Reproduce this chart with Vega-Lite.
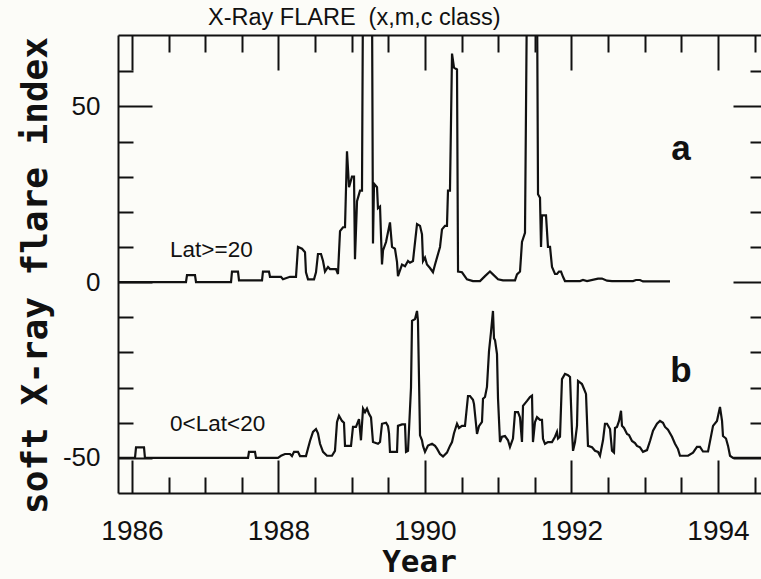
{
  "$schema": "https://vega.github.io/schema/vega-lite/v6.json",
  "width": 643,
  "height": 458,
  "autosize": {"type": "none"},
  "padding": {"left": 118, "top": 35, "right": 0, "bottom": 86},
  "background": "#fcfcf8",
  "title": {
    "text": "X-Ray FLARE \u00a0(x,m,c class)",
    "anchor": "start",
    "frame": "group",
    "dx": 90,
    "offset": -14,
    "baseline": "alphabetic",
    "font": "Liberation Sans",
    "fontSize": 23.5,
    "fontWeight": "normal",
    "color": "#111"
  },
  "config": {
    "view": {"stroke": null},
    "axis": {
      "domainColor": "#111",
      "domainWidth": 2,
      "tickColor": "#111",
      "tickWidth": 2,
      "grid": false,
      "labelColor": "#111",
      "titleColor": "#111",
      "labelFont": "Liberation Sans"
    }
  },
  "datasets": {
    "flare": [
      {"series": "Lat>=20", "year": 1985.809, "index": 0},
      {"series": "Lat>=20", "year": 1986.737, "index": 0},
      {"series": "Lat>=20", "year": 1986.751, "index": 2},
      {"series": "Lat>=20", "year": 1986.860, "index": 2},
      {"series": "Lat>=20", "year": 1986.874, "index": 0},
      {"series": "Lat>=20", "year": 1987.352, "index": 0},
      {"series": "Lat>=20", "year": 1987.365, "index": 3},
      {"series": "Lat>=20", "year": 1987.447, "index": 3},
      {"series": "Lat>=20", "year": 1987.461, "index": 0.5},
      {"series": "Lat>=20", "year": 1987.775, "index": 0.5},
      {"series": "Lat>=20", "year": 1987.788, "index": 3},
      {"series": "Lat>=20", "year": 1987.870, "index": 3},
      {"series": "Lat>=20", "year": 1987.884, "index": 1.5},
      {"series": "Lat>=20", "year": 1988.034, "index": 1.5},
      {"series": "Lat>=20", "year": 1988.061, "index": 0.8},
      {"series": "Lat>=20", "year": 1988.157, "index": 1.5},
      {"series": "Lat>=20", "year": 1988.239, "index": 1.5},
      {"series": "Lat>=20", "year": 1988.266, "index": 10},
      {"series": "Lat>=20", "year": 1988.321, "index": 9.5},
      {"series": "Lat>=20", "year": 1988.362, "index": 8.5},
      {"series": "Lat>=20", "year": 1988.375, "index": 2.8},
      {"series": "Lat>=20", "year": 1988.403, "index": 0.8},
      {"series": "Lat>=20", "year": 1988.485, "index": 0.8},
      {"series": "Lat>=20", "year": 1988.512, "index": 2.8},
      {"series": "Lat>=20", "year": 1988.539, "index": 8},
      {"series": "Lat>=20", "year": 1988.580, "index": 8},
      {"series": "Lat>=20", "year": 1988.608, "index": 6},
      {"series": "Lat>=20", "year": 1988.635, "index": 3},
      {"series": "Lat>=20", "year": 1988.676, "index": 4.3},
      {"series": "Lat>=20", "year": 1988.703, "index": 3.7},
      {"series": "Lat>=20", "year": 1988.785, "index": 3.7},
      {"series": "Lat>=20", "year": 1988.812, "index": 2.3},
      {"series": "Lat>=20", "year": 1988.840, "index": 14.5},
      {"series": "Lat>=20", "year": 1988.881, "index": 15.6},
      {"series": "Lat>=20", "year": 1988.908, "index": 15.6},
      {"series": "Lat>=20", "year": 1988.935, "index": 37.2},
      {"series": "Lat>=20", "year": 1988.963, "index": 27},
      {"series": "Lat>=20", "year": 1989.003, "index": 30},
      {"series": "Lat>=20", "year": 1989.031, "index": 30},
      {"series": "Lat>=20", "year": 1989.044, "index": 6.5},
      {"series": "Lat>=20", "year": 1989.072, "index": 23},
      {"series": "Lat>=20", "year": 1989.113, "index": 26},
      {"series": "Lat>=20", "year": 1989.140, "index": 26},
      {"series": "Lat>=20", "year": 1989.154, "index": 85},
      {"series": "Lat>=20", "year": 1989.276, "index": 85},
      {"series": "Lat>=20", "year": 1989.290, "index": 11},
      {"series": "Lat>=20", "year": 1989.304, "index": 28},
      {"series": "Lat>=20", "year": 1989.345, "index": 27},
      {"series": "Lat>=20", "year": 1989.358, "index": 21},
      {"series": "Lat>=20", "year": 1989.386, "index": 21.5},
      {"series": "Lat>=20", "year": 1989.413, "index": 5},
      {"series": "Lat>=20", "year": 1989.427, "index": 9},
      {"series": "Lat>=20", "year": 1989.468, "index": 11.4},
      {"series": "Lat>=20", "year": 1989.522, "index": 17},
      {"series": "Lat>=20", "year": 1989.550, "index": 10},
      {"series": "Lat>=20", "year": 1989.590, "index": 9.5},
      {"series": "Lat>=20", "year": 1989.618, "index": 5.7},
      {"series": "Lat>=20", "year": 1989.631, "index": 1.7},
      {"series": "Lat>=20", "year": 1989.686, "index": 5},
      {"series": "Lat>=20", "year": 1989.727, "index": 4.5},
      {"series": "Lat>=20", "year": 1989.768, "index": 6},
      {"series": "Lat>=20", "year": 1989.795, "index": 5.5},
      {"series": "Lat>=20", "year": 1989.836, "index": 6},
      {"series": "Lat>=20", "year": 1989.891, "index": 16.5},
      {"series": "Lat>=20", "year": 1989.932, "index": 16},
      {"series": "Lat>=20", "year": 1989.959, "index": 13.6},
      {"series": "Lat>=20", "year": 1989.973, "index": 6},
      {"series": "Lat>=20", "year": 1990.000, "index": 7},
      {"series": "Lat>=20", "year": 1990.027, "index": 5},
      {"series": "Lat>=20", "year": 1990.068, "index": 4},
      {"series": "Lat>=20", "year": 1990.109, "index": 2.8},
      {"series": "Lat>=20", "year": 1990.137, "index": 5},
      {"series": "Lat>=20", "year": 1990.178, "index": 8},
      {"series": "Lat>=20", "year": 1990.205, "index": 10},
      {"series": "Lat>=20", "year": 1990.232, "index": 15},
      {"series": "Lat>=20", "year": 1990.273, "index": 16},
      {"series": "Lat>=20", "year": 1990.300, "index": 16},
      {"series": "Lat>=20", "year": 1990.314, "index": 26},
      {"series": "Lat>=20", "year": 1990.341, "index": 26},
      {"series": "Lat>=20", "year": 1990.369, "index": 65},
      {"series": "Lat>=20", "year": 1990.396, "index": 61},
      {"series": "Lat>=20", "year": 1990.437, "index": 60.5},
      {"series": "Lat>=20", "year": 1990.451, "index": 3},
      {"series": "Lat>=20", "year": 1990.505, "index": 2.8},
      {"series": "Lat>=20", "year": 1990.573, "index": 0.8},
      {"series": "Lat>=20", "year": 1990.655, "index": 0.3},
      {"series": "Lat>=20", "year": 1990.751, "index": 0.3},
      {"series": "Lat>=20", "year": 1990.819, "index": 1.7},
      {"series": "Lat>=20", "year": 1990.887, "index": 3},
      {"series": "Lat>=20", "year": 1990.928, "index": 2.2},
      {"series": "Lat>=20", "year": 1990.997, "index": 0.8},
      {"series": "Lat>=20", "year": 1991.065, "index": 0.5},
      {"series": "Lat>=20", "year": 1991.229, "index": 0.5},
      {"series": "Lat>=20", "year": 1991.256, "index": 2.2},
      {"series": "Lat>=20", "year": 1991.297, "index": 3},
      {"series": "Lat>=20", "year": 1991.324, "index": 11.4},
      {"series": "Lat>=20", "year": 1991.365, "index": 14},
      {"series": "Lat>=20", "year": 1991.393, "index": 85},
      {"series": "Lat>=20", "year": 1991.529, "index": 85},
      {"series": "Lat>=20", "year": 1991.543, "index": 25},
      {"series": "Lat>=20", "year": 1991.570, "index": 24},
      {"series": "Lat>=20", "year": 1991.584, "index": 10},
      {"series": "Lat>=20", "year": 1991.597, "index": 19},
      {"series": "Lat>=20", "year": 1991.652, "index": 19},
      {"series": "Lat>=20", "year": 1991.679, "index": 10},
      {"series": "Lat>=20", "year": 1991.707, "index": 10},
      {"series": "Lat>=20", "year": 1991.734, "index": 4.3},
      {"series": "Lat>=20", "year": 1991.775, "index": 2.3},
      {"series": "Lat>=20", "year": 1991.802, "index": 2.3},
      {"series": "Lat>=20", "year": 1991.829, "index": 3},
      {"series": "Lat>=20", "year": 1991.857, "index": 3},
      {"series": "Lat>=20", "year": 1991.884, "index": 1.5},
      {"series": "Lat>=20", "year": 1991.911, "index": 0.3},
      {"series": "Lat>=20", "year": 1992.116, "index": 0.3},
      {"series": "Lat>=20", "year": 1992.157, "index": 0.6},
      {"series": "Lat>=20", "year": 1992.212, "index": 0.3},
      {"series": "Lat>=20", "year": 1992.362, "index": 1},
      {"series": "Lat>=20", "year": 1992.416, "index": 1},
      {"series": "Lat>=20", "year": 1992.485, "index": 0.4},
      {"series": "Lat>=20", "year": 1992.553, "index": 0.3},
      {"series": "Lat>=20", "year": 1992.840, "index": 0.3},
      {"series": "Lat>=20", "year": 1992.881, "index": 0.6},
      {"series": "Lat>=20", "year": 1992.935, "index": 0.6},
      {"series": "Lat>=20", "year": 1992.976, "index": 0.2},
      {"series": "Lat>=20", "year": 1993.345, "index": 0.2},

      {"series": "0<Lat<20", "year": 1985.809, "index": -50},
      {"series": "0<Lat<20", "year": 1986.041, "index": -50},
      {"series": "0<Lat<20", "year": 1986.055, "index": -47},
      {"series": "0<Lat<20", "year": 1986.164, "index": -47},
      {"series": "0<Lat<20", "year": 1986.177, "index": -50},
      {"series": "0<Lat<20", "year": 1987.584, "index": -50},
      {"series": "0<Lat<20", "year": 1987.597, "index": -48.3},
      {"series": "0<Lat<20", "year": 1987.679, "index": -48.3},
      {"series": "0<Lat<20", "year": 1987.693, "index": -50},
      {"series": "0<Lat<20", "year": 1987.993, "index": -50},
      {"series": "0<Lat<20", "year": 1988.034, "index": -49.4},
      {"series": "0<Lat<20", "year": 1988.089, "index": -48.9},
      {"series": "0<Lat<20", "year": 1988.157, "index": -48.9},
      {"series": "0<Lat<20", "year": 1988.184, "index": -49.5},
      {"series": "0<Lat<20", "year": 1988.212, "index": -48.3},
      {"series": "0<Lat<20", "year": 1988.266, "index": -48.3},
      {"series": "0<Lat<20", "year": 1988.294, "index": -49.5},
      {"series": "0<Lat<20", "year": 1988.375, "index": -49.5},
      {"series": "0<Lat<20", "year": 1988.430, "index": -45.2},
      {"series": "0<Lat<20", "year": 1988.471, "index": -42.6},
      {"series": "0<Lat<20", "year": 1988.512, "index": -41.8},
      {"series": "0<Lat<20", "year": 1988.539, "index": -43},
      {"series": "0<Lat<20", "year": 1988.567, "index": -46},
      {"series": "0<Lat<20", "year": 1988.608, "index": -48.3},
      {"series": "0<Lat<20", "year": 1988.662, "index": -49.4},
      {"series": "0<Lat<20", "year": 1988.730, "index": -49.4},
      {"series": "0<Lat<20", "year": 1988.771, "index": -48},
      {"series": "0<Lat<20", "year": 1988.799, "index": -39.8},
      {"series": "0<Lat<20", "year": 1988.826, "index": -38},
      {"series": "0<Lat<20", "year": 1988.867, "index": -39.5},
      {"series": "0<Lat<20", "year": 1988.894, "index": -40},
      {"series": "0<Lat<20", "year": 1988.908, "index": -46.6},
      {"series": "0<Lat<20", "year": 1988.990, "index": -46.6},
      {"series": "0<Lat<20", "year": 1989.017, "index": -41.2},
      {"series": "0<Lat<20", "year": 1989.058, "index": -41.2},
      {"series": "0<Lat<20", "year": 1989.099, "index": -39},
      {"series": "0<Lat<20", "year": 1989.126, "index": -45},
      {"series": "0<Lat<20", "year": 1989.154, "index": -36},
      {"series": "0<Lat<20", "year": 1989.181, "index": -37},
      {"series": "0<Lat<20", "year": 1989.208, "index": -36},
      {"series": "0<Lat<20", "year": 1989.236, "index": -37.5},
      {"series": "0<Lat<20", "year": 1989.263, "index": -38.5},
      {"series": "0<Lat<20", "year": 1989.290, "index": -45.5},
      {"series": "0<Lat<20", "year": 1989.358, "index": -46},
      {"series": "0<Lat<20", "year": 1989.386, "index": -45.5},
      {"series": "0<Lat<20", "year": 1989.413, "index": -40.3},
      {"series": "0<Lat<20", "year": 1989.468, "index": -40},
      {"series": "0<Lat<20", "year": 1989.495, "index": -41},
      {"series": "0<Lat<20", "year": 1989.509, "index": -43},
      {"series": "0<Lat<20", "year": 1989.522, "index": -48.3},
      {"series": "0<Lat<20", "year": 1989.618, "index": -48.3},
      {"series": "0<Lat<20", "year": 1989.631, "index": -40.9},
      {"series": "0<Lat<20", "year": 1989.686, "index": -40.5},
      {"series": "0<Lat<20", "year": 1989.727, "index": -40.5},
      {"series": "0<Lat<20", "year": 1989.741, "index": -48.3},
      {"series": "0<Lat<20", "year": 1989.768, "index": -48},
      {"series": "0<Lat<20", "year": 1989.809, "index": -30},
      {"series": "0<Lat<20", "year": 1989.823, "index": -11},
      {"series": "0<Lat<20", "year": 1989.864, "index": -10.5},
      {"series": "0<Lat<20", "year": 1989.891, "index": -8.2},
      {"series": "0<Lat<20", "year": 1989.904, "index": -11},
      {"series": "0<Lat<20", "year": 1989.932, "index": -43.6},
      {"series": "0<Lat<20", "year": 1989.959, "index": -45},
      {"series": "0<Lat<20", "year": 1989.973, "index": -46.6},
      {"series": "0<Lat<20", "year": 1990.000, "index": -48.3},
      {"series": "0<Lat<20", "year": 1990.041, "index": -46.5},
      {"series": "0<Lat<20", "year": 1990.096, "index": -46},
      {"series": "0<Lat<20", "year": 1990.137, "index": -46.6},
      {"series": "0<Lat<20", "year": 1990.164, "index": -47.4},
      {"series": "0<Lat<20", "year": 1990.205, "index": -48.9},
      {"series": "0<Lat<20", "year": 1990.246, "index": -49.6},
      {"series": "0<Lat<20", "year": 1990.300, "index": -48.5},
      {"series": "0<Lat<20", "year": 1990.341, "index": -46.6},
      {"series": "0<Lat<20", "year": 1990.369, "index": -45.5},
      {"series": "0<Lat<20", "year": 1990.396, "index": -43},
      {"series": "0<Lat<20", "year": 1990.437, "index": -40.3},
      {"series": "0<Lat<20", "year": 1990.464, "index": -41.5},
      {"series": "0<Lat<20", "year": 1990.505, "index": -40.9},
      {"series": "0<Lat<20", "year": 1990.546, "index": -40.9},
      {"series": "0<Lat<20", "year": 1990.587, "index": -32.4},
      {"series": "0<Lat<20", "year": 1990.614, "index": -32.4},
      {"series": "0<Lat<20", "year": 1990.655, "index": -33.5},
      {"series": "0<Lat<20", "year": 1990.669, "index": -34.7},
      {"series": "0<Lat<20", "year": 1990.696, "index": -40.3},
      {"series": "0<Lat<20", "year": 1990.710, "index": -43.2},
      {"series": "0<Lat<20", "year": 1990.737, "index": -41},
      {"series": "0<Lat<20", "year": 1990.778, "index": -39.8},
      {"series": "0<Lat<20", "year": 1990.792, "index": -33.2},
      {"series": "0<Lat<20", "year": 1990.819, "index": -32.7},
      {"series": "0<Lat<20", "year": 1990.846, "index": -29.8},
      {"series": "0<Lat<20", "year": 1990.874, "index": -19.6},
      {"series": "0<Lat<20", "year": 1990.901, "index": -14.2},
      {"series": "0<Lat<20", "year": 1990.928, "index": -8.2},
      {"series": "0<Lat<20", "year": 1990.942, "index": -16},
      {"series": "0<Lat<20", "year": 1990.956, "index": -16.5},
      {"series": "0<Lat<20", "year": 1990.983, "index": -20.5},
      {"series": "0<Lat<20", "year": 1990.997, "index": -33.2},
      {"series": "0<Lat<20", "year": 1991.024, "index": -45.5},
      {"series": "0<Lat<20", "year": 1991.051, "index": -44},
      {"series": "0<Lat<20", "year": 1991.092, "index": -43.8},
      {"series": "0<Lat<20", "year": 1991.133, "index": -45},
      {"series": "0<Lat<20", "year": 1991.160, "index": -46.9},
      {"series": "0<Lat<20", "year": 1991.201, "index": -44.5},
      {"series": "0<Lat<20", "year": 1991.229, "index": -37},
      {"series": "0<Lat<20", "year": 1991.270, "index": -37},
      {"series": "0<Lat<20", "year": 1991.297, "index": -38.5},
      {"series": "0<Lat<20", "year": 1991.324, "index": -45.5},
      {"series": "0<Lat<20", "year": 1991.338, "index": -35.2},
      {"series": "0<Lat<20", "year": 1991.393, "index": -33.8},
      {"series": "0<Lat<20", "year": 1991.433, "index": -32.7},
      {"series": "0<Lat<20", "year": 1991.461, "index": -32.3},
      {"series": "0<Lat<20", "year": 1991.474, "index": -45.5},
      {"series": "0<Lat<20", "year": 1991.502, "index": -39.8},
      {"series": "0<Lat<20", "year": 1991.529, "index": -38.4},
      {"series": "0<Lat<20", "year": 1991.570, "index": -39.2},
      {"series": "0<Lat<20", "year": 1991.597, "index": -39.2},
      {"series": "0<Lat<20", "year": 1991.611, "index": -44.6},
      {"series": "0<Lat<20", "year": 1991.638, "index": -46},
      {"series": "0<Lat<20", "year": 1991.679, "index": -45.5},
      {"series": "0<Lat<20", "year": 1991.734, "index": -45.5},
      {"series": "0<Lat<20", "year": 1991.775, "index": -44},
      {"series": "0<Lat<20", "year": 1991.802, "index": -42.6},
      {"series": "0<Lat<20", "year": 1991.816, "index": -44.5},
      {"series": "0<Lat<20", "year": 1991.843, "index": -44},
      {"series": "0<Lat<20", "year": 1991.870, "index": -27.6},
      {"series": "0<Lat<20", "year": 1991.911, "index": -26.1},
      {"series": "0<Lat<20", "year": 1991.952, "index": -26.5},
      {"series": "0<Lat<20", "year": 1991.980, "index": -27},
      {"series": "0<Lat<20", "year": 1992.007, "index": -42.6},
      {"series": "0<Lat<20", "year": 1992.021, "index": -48},
      {"series": "0<Lat<20", "year": 1992.048, "index": -45.5},
      {"series": "0<Lat<20", "year": 1992.075, "index": -40.9},
      {"series": "0<Lat<20", "year": 1992.089, "index": -28.1},
      {"series": "0<Lat<20", "year": 1992.143, "index": -29},
      {"series": "0<Lat<20", "year": 1992.171, "index": -30.4},
      {"series": "0<Lat<20", "year": 1992.198, "index": -31.8},
      {"series": "0<Lat<20", "year": 1992.225, "index": -46.6},
      {"series": "0<Lat<20", "year": 1992.280, "index": -47},
      {"series": "0<Lat<20", "year": 1992.321, "index": -48},
      {"series": "0<Lat<20", "year": 1992.362, "index": -48.3},
      {"series": "0<Lat<20", "year": 1992.389, "index": -49.4},
      {"series": "0<Lat<20", "year": 1992.430, "index": -45},
      {"series": "0<Lat<20", "year": 1992.457, "index": -40.3},
      {"series": "0<Lat<20", "year": 1992.485, "index": -40.3},
      {"series": "0<Lat<20", "year": 1992.526, "index": -41.8},
      {"series": "0<Lat<20", "year": 1992.553, "index": -48},
      {"series": "0<Lat<20", "year": 1992.580, "index": -48.5},
      {"series": "0<Lat<20", "year": 1992.594, "index": -41.5},
      {"series": "0<Lat<20", "year": 1992.621, "index": -41.2},
      {"series": "0<Lat<20", "year": 1992.649, "index": -39.5},
      {"series": "0<Lat<20", "year": 1992.676, "index": -36.6},
      {"series": "0<Lat<20", "year": 1992.689, "index": -40.9},
      {"series": "0<Lat<20", "year": 1992.717, "index": -41.5},
      {"series": "0<Lat<20", "year": 1992.758, "index": -43.2},
      {"series": "0<Lat<20", "year": 1992.785, "index": -43.5},
      {"series": "0<Lat<20", "year": 1992.826, "index": -45.2},
      {"series": "0<Lat<20", "year": 1992.867, "index": -45.8},
      {"series": "0<Lat<20", "year": 1992.894, "index": -46.6},
      {"series": "0<Lat<20", "year": 1992.935, "index": -47},
      {"series": "0<Lat<20", "year": 1992.976, "index": -48.3},
      {"series": "0<Lat<20", "year": 1993.031, "index": -47.8},
      {"series": "0<Lat<20", "year": 1993.072, "index": -45.2},
      {"series": "0<Lat<20", "year": 1993.113, "index": -42.3},
      {"series": "0<Lat<20", "year": 1993.167, "index": -40.3},
      {"series": "0<Lat<20", "year": 1993.208, "index": -39.5},
      {"series": "0<Lat<20", "year": 1993.249, "index": -40},
      {"series": "0<Lat<20", "year": 1993.277, "index": -41.2},
      {"series": "0<Lat<20", "year": 1993.317, "index": -42},
      {"series": "0<Lat<20", "year": 1993.372, "index": -44},
      {"series": "0<Lat<20", "year": 1993.413, "index": -46},
      {"series": "0<Lat<20", "year": 1993.454, "index": -47.5},
      {"series": "0<Lat<20", "year": 1993.481, "index": -49.4},
      {"series": "0<Lat<20", "year": 1993.591, "index": -49.4},
      {"series": "0<Lat<20", "year": 1993.659, "index": -48.5},
      {"series": "0<Lat<20", "year": 1993.713, "index": -46.9},
      {"series": "0<Lat<20", "year": 1993.754, "index": -46.9},
      {"series": "0<Lat<20", "year": 1993.795, "index": -48.2},
      {"series": "0<Lat<20", "year": 1993.864, "index": -48.2},
      {"series": "0<Lat<20", "year": 1993.932, "index": -40.9},
      {"series": "0<Lat<20", "year": 1993.986, "index": -39.5},
      {"series": "0<Lat<20", "year": 1994.027, "index": -35.5},
      {"series": "0<Lat<20", "year": 1994.055, "index": -39.5},
      {"series": "0<Lat<20", "year": 1994.068, "index": -43.8},
      {"series": "0<Lat<20", "year": 1994.109, "index": -44.5},
      {"series": "0<Lat<20", "year": 1994.137, "index": -46.6},
      {"series": "0<Lat<20", "year": 1994.164, "index": -49.4},
      {"series": "0<Lat<20", "year": 1994.205, "index": -50},
      {"series": "0<Lat<20", "year": 1994.655, "index": -50}
    ],
    "seriesLabels": [
      {"year": 1986.52, "index": 7.2, "label": "Lat>=20"},
      {"year": 1986.52, "index": -42.5, "label": "0<Lat<20"}
    ],
    "panelLetters": [
      {"year": 1993.495, "index": 34.7, "label": "a"},
      {"year": 1993.495, "index": -28.3, "label": "b"}
    ]
  },
  "resolve": {"axis": {"x": "independent", "y": "independent"}},
  "layer": [
    {
      "data": {"name": "flare"},
      "mark": {"type": "line", "clip": true, "color": "#111", "strokeWidth": 2.2},
      "encoding": {
        "x": {
          "field": "year",
          "type": "quantitative",
          "scale": {"domain": [1985.809, 1994.587], "nice": false, "zero": false},
          "axis": {
            "orient": "bottom",
            "values": [1986, 1986.5, 1987, 1987.5, 1988, 1988.5, 1989, 1989.5, 1990, 1990.5, 1991, 1991.5, 1992, 1992.5, 1993, 1993.5, 1994, 1994.5],
            "tickSize": {"condition": {"test": "datum.value % 2 === 0", "value": -33}, "value": -16},
            "labelExpr": "datum.value % 2 === 0 ? format(datum.value, 'd') : ''",
            "labelFontSize": 28,
            "labelPadding": 57,
            "labelBaseline": "top",
            "labelFlush": false,
            "labelOverlap": false,
            "title": "Year",
            "titleFont": "DejaVu Sans Mono",
            "titleFontWeight": "bold",
            "titleFontSize": 31,
            "titleX": 301,
            "titleY": 78.5,
            "titleAlign": "center",
            "titleBaseline": "alphabetic"
          }
        },
        "y": {
          "field": "index",
          "type": "quantitative",
          "scale": {"domain": [-60, 70.3], "nice": false, "zero": false},
          "axis": {
            "orient": "left",
            "values": [-50, -40, -30, -20, -10, 0, 10, 20, 30, 40, 50, 60],
            "tickSize": {"condition": {"test": "datum.value % 50 === 0", "value": -34}, "value": -15},
            "labelExpr": "datum.value === 50 ? '50' : datum.value === 0 ? '0' : datum.value === -50 ? '-50' : ''",
            "labelFontSize": 26,
            "labelPadding": 52,
            "labelOverlap": false,
            "labelFlush": false,
            "title": "soft X-ray flare index",
            "titleFont": "DejaVu Sans Mono",
            "titleFontWeight": "bold",
            "titleFontSize": 36,
            "titleX": -72,
            "titleY": 240,
            "titleAlign": "center",
            "titleBaseline": "alphabetic"
          }
        },
        "detail": {"field": "series"}
      }
    },
    {
      "data": {"name": "flare"},
      "mark": {"type": "line", "clip": true, "opacity": 0},
      "encoding": {
        "x": {
          "field": "year",
          "type": "quantitative",
          "axis": {
            "orient": "top",
            "values": [1986, 1986.5, 1987, 1987.5, 1988, 1988.5, 1989, 1989.5, 1990, 1990.5, 1991, 1991.5, 1992, 1992.5, 1993, 1993.5, 1994, 1994.5],
            "tickSize": {"condition": {"test": "datum.value % 2 === 0", "value": -35}, "value": -17},
            "labels": false,
            "title": null
          }
        },
        "y": {
          "field": "index",
          "type": "quantitative",
          "axis": {
            "orient": "right",
            "domain": false,
            "values": [-50, -40, -30, -20, -10, 0, 10, 20, 30, 40, 50, 60],
            "tickSize": {"condition": {"test": "datum.value % 50 === 0", "value": -28}, "value": -11},
            "labels": false,
            "title": null
          }
        },
        "detail": {"field": "series"}
      }
    },
    {
      "data": {"name": "seriesLabels"},
      "mark": {"type": "text", "align": "left", "baseline": "alphabetic", "font": "Liberation Sans", "fontSize": 22.5, "color": "#111"},
      "encoding": {
        "x": {"field": "year", "type": "quantitative", "axis": null},
        "y": {"field": "index", "type": "quantitative", "axis": null},
        "text": {"field": "label"}
      }
    },
    {
      "data": {"name": "panelLetters"},
      "mark": {"type": "text", "align": "center", "baseline": "alphabetic", "font": "Liberation Sans", "fontWeight": "bold", "fontSize": 35, "color": "#111"},
      "encoding": {
        "x": {"field": "year", "type": "quantitative", "axis": null},
        "y": {"field": "index", "type": "quantitative", "axis": null},
        "text": {"field": "label"}
      }
    }
  ]
}
